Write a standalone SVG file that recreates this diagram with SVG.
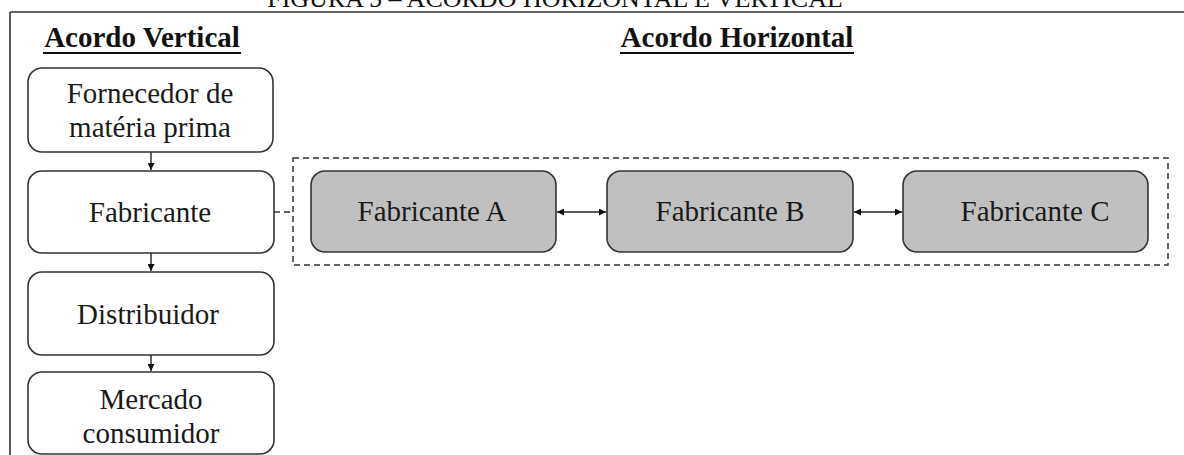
<svg xmlns="http://www.w3.org/2000/svg" width="1184" height="455" viewBox="0 0 1184 455">
<defs>
<style>
.box{fill:#ffffff;stroke:#333333;stroke-width:1.6}
.gbox{fill:#c0c0c0;stroke:#333333;stroke-width:1.6}
.t{font-family:"Liberation Serif","Times New Roman",serif;font-size:29px;fill:#1a1a1a;text-anchor:middle}
.h{font-family:"Liberation Serif","Times New Roman",serif;font-size:29px;font-weight:bold;fill:#111111;text-anchor:middle}
.ln{stroke:#222222;stroke-width:1.4;fill:none}
.dash{stroke:#333333;stroke-width:1.5;fill:none;stroke-dasharray:6 4}
</style>
<marker id="ah" viewBox="0 0 10 10" refX="10" refY="5" markerWidth="7" markerHeight="7" markerUnits="userSpaceOnUse" orient="auto-start-reverse">
<path d="M0,0 L10,5 L0,10 z" fill="#111111"/>
</marker>
</defs>
<rect width="1184" height="455" fill="#ffffff"/>
<g id="frame">
<text x="555" y="7" style="font-family:'Liberation Serif','Times New Roman',serif;font-size:26px;fill:#111111;text-anchor:middle">FIGURA 5 – ACORDO HORIZONTAL E VERTICAL</text>
<line x1="10" y1="12" x2="1184" y2="12" stroke="#333333" stroke-width="1.6"/>
<line x1="10" y1="12" x2="10" y2="455" stroke="#333333" stroke-width="1.6"/>
</g>
<g id="headers">
<text class="h" x="142" y="47">Acordo Vertical</text>
<line x1="43" y1="53" x2="241" y2="53" stroke="#111111" stroke-width="2"/>
<text class="h" x="737" y="47">Acordo Horizontal</text>
<line x1="620" y1="53" x2="854" y2="53" stroke="#111111" stroke-width="2"/>
</g>
<g id="container">
<rect class="dash" x="293" y="158" width="875" height="107"/>
</g>
<g id="fornecedor">
<rect class="box" x="28" y="68" width="245" height="84" rx="14"/>
<text class="t" x="150" y="103">Fornecedor de</text>
<text class="t" x="150" y="137">matéria prima</text>
</g>
<g id="fabricante">
<rect class="box" x="28" y="171" width="246" height="82" rx="14"/>
<text class="t" x="150" y="222">Fabricante</text>
</g>
<g id="distribuidor">
<rect class="box" x="28" y="272" width="246" height="83" rx="14"/>
<text class="t" x="148" y="324">Distribuidor</text>
</g>
<g id="mercado">
<rect class="box" x="28" y="372" width="246" height="82" rx="14"/>
<text class="t" x="151" y="409">Mercado</text>
<text class="t" x="151" y="443">consumidor</text>
</g>
<g id="fabA">
<rect class="gbox" x="311" y="171" width="245" height="81" rx="14"/>
<text class="t" x="432" y="221">Fabricante A</text>
</g>
<g id="fabB">
<rect class="gbox" x="607" y="171" width="246" height="81" rx="14"/>
<text class="t" x="730" y="221">Fabricante B</text>
</g>
<g id="fabC">
<rect class="gbox" x="903" y="171" width="245" height="81" rx="14"/>
<text class="t" x="1035" y="221">Fabricante C</text>
</g>
<g id="connectors">
<line class="ln" x1="151" y1="152" x2="151" y2="170" marker-end="url(#ah)"/>
<line class="ln" x1="151" y1="253" x2="151" y2="271" marker-end="url(#ah)"/>
<line class="ln" x1="151" y1="355" x2="151" y2="371" marker-end="url(#ah)"/>
<line class="dash" x1="274" y1="212" x2="293" y2="212"/>
<line class="ln" x1="557" y1="212" x2="606" y2="212" marker-start="url(#ah)" marker-end="url(#ah)"/>
<line class="ln" x1="854" y1="212" x2="902" y2="212" marker-start="url(#ah)" marker-end="url(#ah)"/>
</g>
</svg>
